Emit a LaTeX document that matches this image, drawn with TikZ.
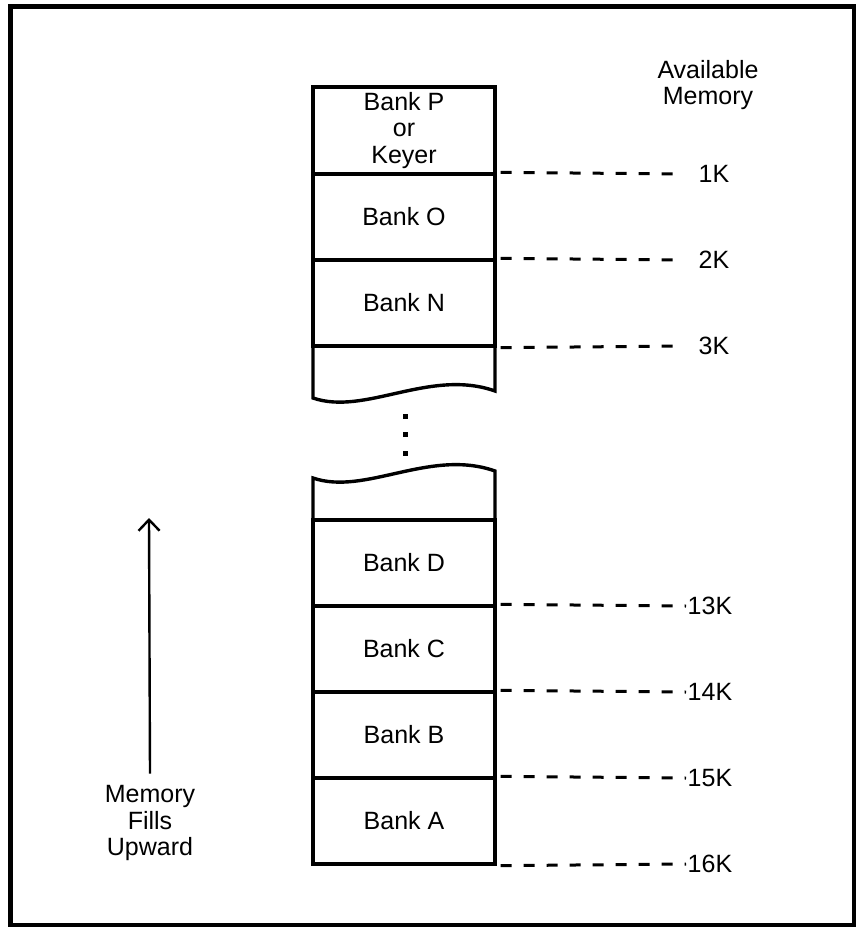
\documentclass[tikz,border=0pt]{standalone}
\usepackage{fontspec}
\setmainfont{Liberation Sans}
\usetikzlibrary{arrows.meta}
\begin{document}
\begin{tikzpicture}[x=1pt,y=-1pt,line width=3.4pt,
  txt/.style={font=\fontsize{25}{26.5}\selectfont,align=center,inner sep=0pt},
  bank/.style={txt,draw,line width=3.4pt,minimum width=182pt,minimum height=86pt},
  sizelbl/.style={txt,anchor=west},
  lead/.style={line width=3pt,dash pattern=on 11pt off 12pt,dash phase=-4pt}]
  \useasboundingbox (0,0) rectangle (856,927);
  \draw[line width=5pt] (10,6) rectangle (854,925);
  % upper part of the stack
  \node[bank,minimum height=87pt] (P) at (404,130.5) {Bank P\\or\\Keyer};
  \node[bank] (O) at (404,217) {Bank O};
  \node[bank] (N) at (404,303) {Bank N};
  \draw (313,346) -- (313,398) .. controls (365,416) and (430,368) .. (495,391) -- (495,346);
  \foreach \y in {416,434,453}
    \fill (402.5,\y-2.5) rectangle +(5.5,5.5);
  % lower part of the stack
  \draw (313,520) -- (313,478) .. controls (365,496) and (430,448) .. (495,471) -- (495,520);
  \node[bank] (D) at (404,563) {Bank D};
  \node[bank] (C) at (404,649) {Bank C};
  \node[bank] (B) at (404,735) {Bank B};
  \node[bank] (A) at (404,821) {Bank A};
  % sizes
  \node[txt] (avail) at (708,85) {Available\\Memory};
  \foreach \k/\y in {1/174, 2/260, 3/346}
    \node[sizelbl] (k\k) at (697,\y) {\k K};
  \foreach \k/\y in {13/606, 14/692, 15/778, 16/864}
    \node[sizelbl] (k\k) at (686,\y) {\k K};
  \draw[lead] (O.north east) -- ([xshift=-14pt]k1.west);
  \draw[lead] (N.north east) -- ([xshift=-14pt]k2.west);
  \draw[lead] (N.south east) -- ([xshift=-14pt]k3.west);
  \draw[lead] (C.north east) -- (k13.west);
  \draw[lead] (B.north east) -- (k14.west);
  \draw[lead] (A.north east) -- (k15.west);
  \draw[lead] (A.south east) -- (k16.west);
  % direction
  \node[txt] (fills) at (150,823) {Memory\\Fills\\Upward};
  \coordinate (fillstop) at (149,518);
  \draw[line width=2.4pt,-{Straight Barb[length=11pt,width=21pt,line width=2.4pt]}]
    ([yshift=10pt]fills.north) -- (fillstop);
\end{tikzpicture}
\end{document}
